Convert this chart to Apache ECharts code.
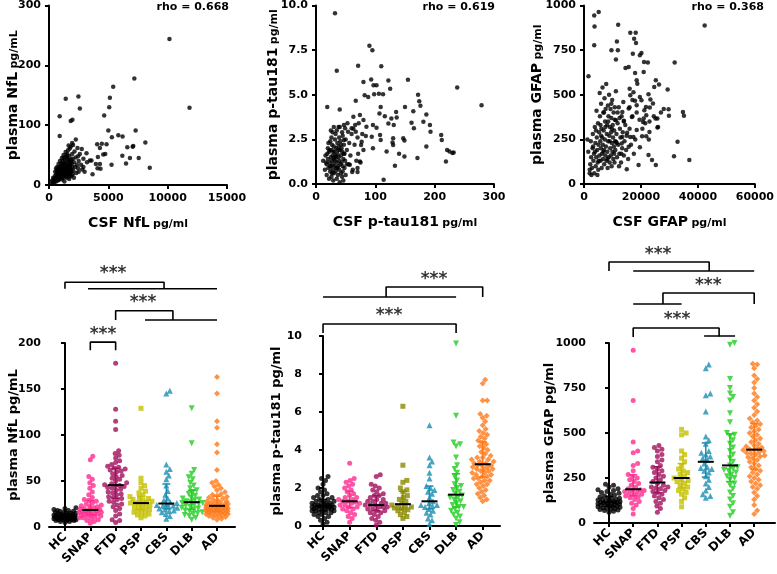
<!DOCTYPE html>
<html><head><meta charset="utf-8">
<script src="https://cdn.jsdelivr.net/npm/echarts@6/dist/echarts.min.js"></script>
<style>html,body{margin:0;padding:0;background:#fff}#c{width:777px;height:574px}</style>
</head><body><div id="c"></div>
<script>
// ---------- DATA ----------
const groups = ['HC','SNAP','FTD','PSP','CBS','DLB','AD'];
const rhoLabels = ['rho = 0.668','rho = 0.619','rho = 0.368'];

const nflScatter = [[10150,244],[11840,129],[7190,178],[5410,164],[5130,146],[5075,130],[4650,116],[5000,91],[7300,91],[2480,148],[1410,144],[2600,128],[1975,109],[1830,107],[900,115],[900,82],[5840,83],[6200,81],[5300,80],[8120,71],[6600,63],[7050,64],[7100,65],[4850,68],[4450,69],[4060,68],[4290,62],[6180,49],[4740,52],[4570,51],[4120,47],[6820,45],[7560,45],[6490,36],[8490,29],[5270,34],[4290,35],[3950,35],[4090,28],[4340,27],[3440,41],[3580,41],[3670,18],[3160,53],[2760,60],[2260,76],[2030,67],[1750,61],[1520,49],[2450,48],
[300,5],[350,12],[400,3],[450,8],[500,15],[520,22],[550,10],[600,6],[620,18],[650,25],[680,12],[700,30],[720,8],[750,20],[780,14],[800,35],[820,24],[850,10],[870,28],[900,18],[920,40],[950,22],[970,15],[1000,32],[1020,26],[1050,12],[1080,45],[1100,20],[1120,30],[1150,36],[1170,16],[1200,25],[1220,50],[1250,28],[1270,18],[1300,34],[1320,42],[1350,22],[1380,30],[1400,55],[1420,14],[1450,38],[1480,26],[1500,20],[1520,44],[1550,32],[1580,24],[1600,58],[1620,36],[1650,18],[1680,28],[1700,48],[1720,40],[1750,22],[1780,34],[1800,30],[1830,64],[1850,26],[1880,42],[1900,16],[1920,36],[1950,52],[1980,30],[2000,44],[2050,24],[2100,38],[2150,56],[2200,30],[2250,46],[2300,20],[2350,34],[2400,62],[2450,28],[2500,40],[2600,52],[2700,34],[2800,26],[2900,44],[3000,22],[3200,38],
[400,10],[500,6],[600,12],[700,16],[800,8],[900,12],[1000,14],[1100,9],[1200,12],[1300,16],[1400,20],[1500,12],[1600,14],[1700,18],[1800,20],[1900,24],[2000,18],[1000,20],[1100,25],[1200,18],[1300,24],[1400,28],[1500,26],[1600,30],[1700,24],[1800,14],[900,26],[800,18],[700,22],[600,28],[1150,40],[1250,46],[1350,36],[1450,48],[1550,52],[1650,42],[1750,32],[1850,38],[950,30],[1050,36],[200,2],[250,7],[1300,6],[1700,10],[2100,12],[2500,22],[2900,30],[1950,70],[1650,66]];

const ptauScatter = [[32,9.57],[35,6.34],[71,6.63],[90,7.75],[95,7.5],[110,6.6],[19,4.32],[40,4.17],[155,5.84],[122,5.8],[125,5.34],[238,5.4],[279,4.41],[93,5.86],[80,5.71],[97,5.53],[102,5.53],[106,5.06],[113,5.03],[98,5.03],[88,4.88],[82,4.97],[67,4.66],[172,5.0],[174,4.64],[176,4.38],[150,4.32],[164,4.08],[135,4.04],[109,4.32],[116,3.8],[107,3.95],[127,3.67],[136,3.73],[122,3.39],[131,3.3],[161,3.43],[165,3.12],[186,3.9],[181,3.49],[192,3.3],[193,2.93],[211,2.75],[212,2.47],[186,2.1],[221,1.91],[225,1.82],[230,1.73],[232,1.76],[219,1.26],[171,1.45],[149,1.54],[140,1.69],[133,1.02],[114,0.24],[147,2.56],[149,2.43],[130,2.56],[129,2.32],[130,2.19],[108,2.75],[109,2.47],[94,2.65],[84,2.69],[77,2.37],[76,2.19],[80,1.91],[71,1.69],[74,1.26],[70,0.89],[70,0.67],[61,0.67],[57,1.08],[66,3.3],[60,3.12],[67,2.93],[54,2.93],[47,2.47],[49,3.12],[96,3.3],[102,3.15],[85,3.21],[119,1.82],[96,2.0],[63,3.77],[80,3.58],[74,3.86],
[12,1.3],[15,0.8],[16,1.6],[18,1.1],[18,0.5],[20,2.0],[20,1.4],[21,0.9],[22,0.3],[22,1.8],[23,1.2],[24,2.4],[24,0.7],[25,1.5],[25,1.0],[26,0.4],[26,1.9],[27,1.3],[27,2.2],[28,0.8],[28,1.6],[29,1.1],[29,0.2],[30,2.1],[30,1.4],[30,0.6],[31,1.8],[31,1.0],[32,2.5],[32,1.3],[33,0.7],[33,1.6],[34,2.0],[34,0.9],[35,1.2],[35,3.0],[35,0.3],[36,1.7],[36,2.3],[37,1.0],[37,0.5],[38,1.5],[38,2.1],[39,0.8],[39,1.3],[40,1.9],[40,3.2],[40,0.1],[41,1.1],[41,2.4],[42,0.6],[42,1.6],[43,2.0],[43,1.2],[44,0.4],[44,1.8],[45,2.7],[45,1.0],[46,1.4],[46,0.2],[47,2.2],[47,1.7],[48,0.9],[49,1.3],[50,2.5],[50,0.5],[52,1.9],[53,3.4],[55,1.1],[56,2.3],[58,1.6],[60,2.8],[62,0.8],[63,3.1],[65,2.2],[68,1.3],[70,2.6],[72,3.4],[75,1.2],[78,2.8],[26,2.6],[23,1.9],[28,2.9],[33,2.8],[19,1.7],[21,2.3],[24,1.0],[34,1.5],[37,1.9],[44,2.9],[47,3.3],[38,3.2],[30,3.2],[25,3.0],[27,0.6],[31,1.5],[36,0.9],[42,2.2],[48,1.7],[17,1.2],[29,1.8],[39,2.6],[45,0.7],[52,1.1]];

const gfapScatter = [[3590,944],[5160,963],[3700,883],[12000,892],[42370,888],[3590,777],[9640,749],[11550,799],[11890,749],[11210,698],[16250,847],[18160,847],[17600,814],[18270,790],[17150,730],[20180,734],[19620,721],[21080,683],[22420,680],[20960,627],[17940,622],[15700,655],[14580,650],[31840,680],[1570,603],[18500,581],[18720,562],[25220,581],[26340,557],[24660,544],[29370,529],[29700,419],[29820,382],[34750,404],[35090,382],[32850,236],[31610,156],[36990,134],[25110,367],[25780,367],[25780,317],[22760,250],[22650,162],[23880,134],[25220,106],[22980,292],[21860,268],[20400,268],[19620,206],[19170,106],[15020,82],[21860,385],[20960,367],[20740,348],[20180,469],[19620,488],[17940,466],[18500,441],[16030,534],[16250,497],[17370,514],[22650,503],[23320,473],[23100,428],[21190,413],[21750,432],[24220,451],[15700,423],[13450,404],[14010,354],[16810,376],[11210,357],[18500,302],[17370,264],[16250,264],[15140,287],[13450,264],[13230,227],[15700,209],[11210,236],
[1500,180],[2000,60],[2200,110],[2400,240],[2500,150],[2800,90],[3000,200],[3100,280],[3300,130],[3500,170],[3600,60],[3800,320],[4000,230],[4100,100],[4300,150],[4400,410],[4500,260],[4600,190],[4800,120],[4900,340],[5000,80],[5100,220],[5300,290],[5400,160],[5500,510],[5600,380],[5700,240],[5800,130],[5900,200],[6000,450],[6100,310],[6200,90],[6300,170],[6400,260],[6500,540],[6600,220],[6700,140],[6800,400],[6900,300],[7000,190],[7100,110],[7200,480],[7300,250],[7400,350],[7500,160],[7600,420],[7700,210],[7800,560],[7900,130],[8000,280],[8100,330],[8200,180],[8300,90],[8400,440],[8500,240],[8600,380],[8700,150],[8800,500],[8900,270],[9000,120],[9100,320],[9200,200],[9300,420],[9400,160],[9500,290],[9600,370],[9700,100],[9800,230],[9900,470],[10000,180],[10100,330],[10200,260],[10300,140],[10400,400],[10500,210],[10600,300],[10700,120],[10800,360],[10900,240],[11000,190],[11200,520],[11400,280],[11600,150],[11800,340],[12000,220],[12200,430],[12400,170],[12600,310],[12800,260],[13000,120],[13200,380],[13400,200],[13600,290],[13800,460],[14000,160],[14200,240],[14500,330],[14800,190],[15000,270],[15500,140],[16000,310],[16500,220],[17000,380],[17500,170],[18000,250],
[2000,80],[2600,50],[3200,210],[4200,300],[5200,130],[6000,270],[6800,180],[7500,320],[8200,140],[9000,240],[9800,310],[10600,170],[11500,230],[12300,100],[13100,170],[1200,250],[3900,180],[4700,50],[5800,330],[7000,400],[8500,350],[9600,450],[10800,430],[11800,400],[12500,370],[14000,350],[16000,430],[17000,470],[18500,400],[19500,360],[20500,310],[21500,340],[23000,350],[24500,380],[26000,320],[27000,400],[28000,420]];

const nflValues = [
 [5,6,6,7,7,7,8,8,8,8,9,9,9,9,9,10,10,10,10,10,10,11,11,11,11,11,11,12,12,12,12,12,13,13,13,13,14,14,14,15,15,15,16,16,17,17,18,18,19,20,21],
 [4,6,7,8,9,10,10,11,12,12,13,13,14,14,15,15,16,16,17,17,18,18,18,19,19,20,21,22,22,23,24,25,26,28,29,30,32,35,38,42,45,48,52,55,73,77],
 [5,7,8,12,14,18,20,22,24,25,27,28,30,31,32,33,35,36,37,38,40,41,42,43,44,45,45,46,47,48,50,52,53,55,56,58,60,61,62,63,64,65,66,68,70,72,75,78,80,83,106,115,128,178],
 [10,12,13,14,15,16,17,18,19,20,21,22,23,24,25,26,26,27,27,28,29,30,31,32,33,35,37,39,42,45,48,53,129],
 [9,12,14,16,17,18,19,20,21,22,23,23,24,25,26,27,29,31,35,39,45,52,56,60,63,68,145,148],
 [8,10,12,13,14,15,16,17,18,19,20,21,22,23,24,25,26,26,27,28,29,30,31,32,34,36,38,40,42,45,48,52,54,58,62,91,129],
 [8,9,10,11,12,12,13,13,14,14,15,15,16,16,16,17,17,17,18,18,18,19,19,19,20,20,20,21,21,21,22,22,22,23,23,23,24,24,25,25,26,26,27,28,28,29,30,31,32,33,34,35,36,38,40,42,44,46,48,50,62,81,90,108,115,145,163]
];
const ptauValues = [
 [0.1,0.2,0.3,0.4,0.5,0.5,0.6,0.6,0.7,0.7,0.7,0.8,0.8,0.8,0.8,0.9,0.9,0.9,0.9,0.9,1.0,1.0,1.0,1.0,1.0,1.0,1.05,1.1,1.1,1.1,1.1,1.1,1.2,1.2,1.2,1.2,1.3,1.3,1.3,1.4,1.4,1.5,1.5,1.6,1.6,1.7,1.8,1.9,2.0,2.2,2.4,2.5,2.6],
 [0.2,0.4,0.5,0.6,0.7,0.8,0.9,0.9,1.0,1.0,1.1,1.1,1.2,1.2,1.25,1.3,1.3,1.4,1.4,1.5,1.5,1.6,1.7,1.8,1.9,2.0,2.1,2.2,2.3,2.4,2.5,3.3],
 [0.05,0.2,0.3,0.4,0.5,0.6,0.7,0.7,0.8,0.8,0.9,0.9,1.0,1.0,1.0,1.1,1.1,1.1,1.2,1.2,1.3,1.3,1.4,1.4,1.5,1.6,1.6,1.7,1.8,1.9,2.0,2.1,2.2,2.6,2.7],
 [0.4,0.5,0.6,0.7,0.8,0.85,0.9,0.95,1.0,1.0,1.05,1.1,1.2,1.3,1.4,1.5,1.6,1.8,1.9,2.0,2.3,2.4,3.2,6.3],
 [0.1,0.3,0.4,0.6,0.7,0.8,0.9,1.0,1.05,1.1,1.1,1.2,1.3,1.5,1.7,1.8,1.9,2.0,2.1,2.5,2.8,3.2,3.4,3.6,5.3],
 [0.05,0.2,0.4,0.5,0.6,0.7,0.8,0.9,1.0,1.0,1.1,1.2,1.3,1.4,1.5,1.5,1.6,1.7,1.8,1.9,2.0,2.1,2.2,2.4,2.6,2.8,3.0,3.2,3.6,4.2,4.3,4.4,5.8,9.6],
 [1.3,1.4,1.5,1.6,1.7,1.8,1.9,2.0,2.1,2.2,2.2,2.3,2.4,2.4,2.5,2.5,2.6,2.6,2.7,2.7,2.8,2.8,2.9,2.9,3.0,3.0,3.0,3.1,3.1,3.2,3.2,3.2,3.3,3.3,3.4,3.4,3.5,3.5,3.6,3.6,3.7,3.8,3.9,4.0,4.1,4.2,4.3,4.4,4.5,4.6,4.7,4.8,4.9,5.0,5.1,5.3,5.5,5.7,5.8,5.9,6.6,6.6,7.5,7.7]
];
const gfapValues = [
 [60,65,70,72,75,78,80,82,85,88,90,92,95,97,100,100,102,105,107,110,110,112,115,115,118,120,122,125,128,130,132,135,138,140,145,150,155,160,165,170,175,180,185,190,200,210,215],
 [50,80,100,110,120,130,140,145,150,155,160,165,170,175,180,180,185,190,200,210,220,230,240,250,260,270,290,320,330,390,400,450,680,960],
 [60,80,95,110,120,130,140,150,160,170,175,180,190,195,200,200,210,220,230,240,250,260,270,280,290,300,310,320,340,350,370,380,400,410,420,430],
 [90,120,140,160,170,180,190,200,210,220,230,235,240,250,260,270,280,290,300,320,340,360,380,400,490,500,520],
 [140,150,160,180,200,220,240,260,280,290,300,305,310,330,350,360,370,380,390,400,440,460,480,620,710,720,860,880],
 [40,60,90,110,130,150,170,190,210,220,240,250,260,270,280,290,295,300,310,320,340,360,380,400,420,440,460,480,490,500,560,610,680,700,720,750,800,990,1000],
 [50,70,100,130,150,170,190,200,210,220,230,240,250,260,270,280,290,300,310,320,330,340,350,360,365,370,375,380,385,390,395,400,405,405,410,415,420,425,430,440,450,460,470,480,490,500,510,520,530,540,550,560,570,580,600,620,640,660,680,700,720,750,780,800,820,860,880,885]
];

// significance brackets: [polyline points], star positions [x, y]
const nflBrackets = [[[0,259],[0,266],[3.91,266],[3.91,259]],[[0.91,259],[6,259]],[[2,225],[2,235],[4.26,235],[4.26,225]],[[3.16,225],[6,225]],[[1,192],[1,201],[2,201],[2,192]]];
const nflStars = [[1.9,276],[3.08,244],[1.5,209]];
const ptauBrackets = [[[0,12.05],[5,12.05]],[[2.37,12.05],[2.37,12.58],[6,12.58],[6,12.05]],[[0,10.16],[0,10.63],[5,10.63],[5,10.16]]];
const ptauStars = [[4.17,12.95],[2.48,11.05]];
const gfapBrackets = [[[0,1400],[0,1450],[4.14,1450],[4.14,1400]],[[1,1400],[6,1400]],[[1,1217],[3,1217]],[[2.23,1217],[2.23,1278],[6,1278],[6,1217]],[[1,1033],[1,1083],[4.55,1083],[4.55,1036]],[[3.93,1039],[5.21,1039]]];
const gfapStars = [[2.03,1490],[4.1,1318],[2.81,1128]];

// ---------- STYLE ----------
const FONT = 'DejaVu Sans';
const colorsA = ['#000000','#ff2b8e','#a0105c','#c4c000','#1a8db0','#22cc22','#ff7816'];
const colorsB = ['#000000','#ff2b8e','#a0105c','#8a8a00','#1a8db0','#22cc22','#ff7816'];
const symbols = ['circle','circle','circle','rect','triangle','triangle','diamond'];
const symRot = [0,0,0,0,0,180,0];
const symSize = [5,5,5,5,6,6,6];

const grids = [
 {left:49, top:4, width:178, height:181},
 {left:316, top:5, width:178, height:179},
 {left:584, top:5, width:178, height:179},
 {left:49, top:343, width:186, height:184},
 {left:310, top:336, width:190, height:190},
 {left:594, top:343, width:181, height:180}
];
const xRanges = [[-0.63,6.71],[-0.49,6.65],[-0.62,6.86]];
const yMax = [200,10,1000];

const axisLine = {lineStyle:{color:'#000',width:2}};
const axisTick = {length:4, lineStyle:{color:'#000',width:2}};
const axisLabel = {color:'#000', fontFamily:FONT, fontWeight:'bold', fontSize:11, formatter:v=>String(v)};
function nm(a,b){ return '{a|'+a+'} {b|'+b+'}'; }
const nameStyle = {rich:{a:{fontFamily:FONT,fontWeight:'bold',fontSize:14,color:'#000',verticalAlign:'bottom'},b:{fontFamily:FONT,fontWeight:'bold',fontSize:11,color:'#000',verticalAlign:'bottom'}}};
const nameStyle2 = {fontFamily:FONT,fontWeight:'bold',fontSize:13,color:'#000'};

function baseX(extra){ return Object.assign({type:'value', splitLine:{show:false}, axisLine, axisTick, axisLabel, nameMoveOverlap:false}, extra); }

const xAxis = [
 baseX({gridIndex:0,min:0,max:15000,interval:5000,name:nm('CSF NfL','pg/ml'),nameLocation:'middle',nameGap:31,nameTextStyle:nameStyle}),
 baseX({gridIndex:1,min:0,max:300,interval:100,name:nm('CSF p-tau181','pg/ml'),nameLocation:'middle',nameGap:31,nameTextStyle:nameStyle}),
 baseX({gridIndex:2,min:0,max:60000,interval:20000,name:nm('CSF GFAP','pg/ml'),nameLocation:'middle',nameGap:31,nameTextStyle:nameStyle}),
];
for (let k=0;k<3;k++){
  xAxis.push(baseX({gridIndex:3+k,min:xRanges[k][0],max:xRanges[k][1],
    axisTick:Object.assign({customValues:[0,1,2,3,4,5,6]},axisTick),
    axisLabel:Object.assign({},axisLabel,{customValues:[0,1,2,3,4,5,6],rotate:45,fontSize:12,margin:8,formatter:v=>groups[Math.round(v)]})}));
}
const yAxis = [
 baseX({gridIndex:0,min:0,max:300,interval:100,name:nm('plasma NfL','pg/mL'),nameLocation:'middle',nameGap:29,nameTextStyle:nameStyle}),
 baseX({gridIndex:1,min:0,max:10,interval:2.5,axisLabel:Object.assign({},axisLabel,{formatter:v=>v.toFixed(1)}),name:nm('plasma p-tau181','pg/ml'),nameLocation:'middle',nameGap:36,nameTextStyle:nameStyle}),
 baseX({gridIndex:2,min:0,max:1000,interval:250,name:nm('plasma GFAP','pg/ml'),nameLocation:'middle',nameGap:40,nameTextStyle:nameStyle}),
 baseX({gridIndex:3,min:0,max:200,interval:50,name:'plasma NfL pg/mL',nameLocation:'middle',nameGap:29,nameTextStyle:nameStyle2}),
 baseX({gridIndex:4,min:0,max:10,interval:2,name:'plasma p-tau181 pg/ml',nameLocation:'middle',nameGap:27,nameTextStyle:nameStyle2}),
 baseX({gridIndex:5,min:0,max:1000,interval:250,name:'plasma GFAP pg/ml',nameLocation:'middle',nameGap:38,nameTextStyle:nameStyle2}),
];

// ---------- SERIES ----------
const series = [];
[nflScatter, ptauScatter, gfapScatter].forEach((d,k)=>{
  series.push({type:'scatter', xAxisIndex:k, yAxisIndex:k, data:d, symbol:'circle', symbolSize:4.5, itemStyle:{color:'#000'}, silent:true});
});

function swarm(vals, pxY, pxX, d, maxHalf){
  const s = vals.slice().sort((a,b)=>a-b);
  const placed = []; const out = [];
  for (const v of s){
    const y = v*pxY;
    let best = 0, bestScore = -1;
    for (let k=0; k<=maxHalf*4; k++){
      const off = (k%2 ? 1 : -1) * Math.ceil(k/2) * 0.5;
      if (Math.abs(off) > maxHalf) break;
      let md = Infinity;
      for (const p of placed){
        const dy = p[1]-y; if (Math.abs(dy) >= d) continue;
        const dist = Math.hypot(p[0]-off, dy); if (dist < md) md = dist;
      }
      if (md >= d){ best = off; bestScore = Infinity; break; }
      if (md > bestScore){ bestScore = md; best = off; }
    }
    placed.push([best, y]);
    out.push([best/pxX, v]);
  }
  return out;
}
function quant(arr, q){
  const s = arr.slice().sort((a,b)=>a-b); const pos = (s.length-1)*q;
  const lo = Math.floor(pos), hi = Math.ceil(pos);
  return s[lo] + (s[hi]-s[lo])*(pos-lo);
}

const panels = [
 {vals:nflValues, colors:colorsA, brackets:nflBrackets, stars:nflStars},
 {vals:ptauValues, colors:colorsB, brackets:ptauBrackets, stars:ptauStars},
 {vals:gfapValues, colors:colorsA, brackets:gfapBrackets, stars:gfapStars}
];
panels.forEach((p,k)=>{
  const ai = 3+k;
  const g = grids[ai];
  const pxY = g.height / yMax[k];
  const pxX = g.width / (xRanges[k][1]-xRanges[k][0]);
  const stats = [];
  p.vals.forEach((vals,i)=>{
    const sw = swarm(vals, pxY, pxX, 4.4, 11).map(q=>[i+q[0], q[1]]);
    series.push({type:'scatter', xAxisIndex:ai, yAxisIndex:ai, data:sw, symbol:symbols[i], symbolRotate:symRot[i], symbolSize:symSize[i], itemStyle:{color:p.colors[i]}, silent:true});
    stats.push([i, quant(vals,0.5), quant(vals,0.25), quant(vals,0.75), i]);
  });
  const cols = p.colors;
  series.push({type:'custom', xAxisIndex:ai, yAxisIndex:ai, data:stats, silent:true, z:5,
    renderItem:(params, api)=>{
      const x=api.value(0), m=api.value(1), q1=api.value(2), q3=api.value(3);
      const pm=api.coord([x,m]), p1=api.coord([x,q1]), p3=api.coord([x,q3]);
      const col = cols[api.value(4)];
      return {type:'group', children:[
        {type:'line', shape:{x1:pm[0],y1:p1[1],x2:pm[0],y2:p3[1]}, style:{stroke:col,lineWidth:1.5}},
        {type:'line', shape:{x1:pm[0]-4,y1:p1[1],x2:pm[0]+4,y2:p1[1]}, style:{stroke:col,lineWidth:1.5}},
        {type:'line', shape:{x1:pm[0]-4,y1:p3[1],x2:pm[0]+4,y2:p3[1]}, style:{stroke:col,lineWidth:1.5}},
        {type:'line', shape:{x1:pm[0]-8,y1:pm[1],x2:pm[0]+8,y2:pm[1]}, style:{stroke:'#000',lineWidth:2}}
      ]};
    }});
  p.brackets.forEach(b=>{
    series.push({type:'line', xAxisIndex:ai, yAxisIndex:ai, data:b, clip:false, symbol:'none', silent:true, lineStyle:{color:'#000',width:1.6}, animation:false});
  });
  series.push({type:'scatter', xAxisIndex:ai, yAxisIndex:ai, data:p.stars, clip:false, symbolSize:1, itemStyle:{color:'rgba(0,0,0,0)'}, silent:true,
    label:{show:true, position:'inside', formatter:'***', color:'#000', fontFamily:FONT, fontWeight:'bold', fontSize:17}});
});

const graphic = [
 {type:'text', style:{text:rhoLabels[0], x:229, y:7, textAlign:'right', textVerticalAlign:'middle', font:'bold 11px "DejaVu Sans"', fill:'#000'}},
 {type:'text', style:{text:rhoLabels[1], x:495, y:7, textAlign:'right', textVerticalAlign:'middle', font:'bold 11px "DejaVu Sans"', fill:'#000'}},
 {type:'text', style:{text:rhoLabels[2], x:764, y:7, textAlign:'right', textVerticalAlign:'middle', font:'bold 11px "DejaVu Sans"', fill:'#000'}}
];

const chart = echarts.init(document.getElementById('c'), null, {renderer:'canvas'});
chart.setOption({animation:false, backgroundColor:'#fff', grid:grids, xAxis, yAxis, series, graphic});
</script></body></html>
